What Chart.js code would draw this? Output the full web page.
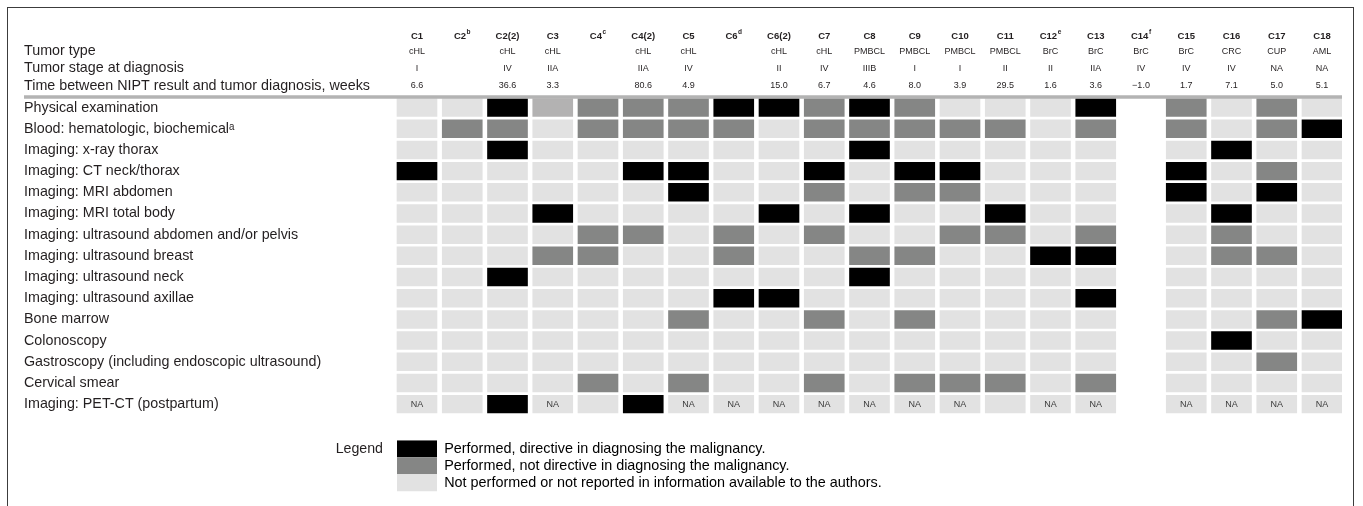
<!DOCTYPE html>
<html>
<head>
<meta charset="utf-8">
<script src="https://cdn.jsdelivr.net/npm/chart.js@4.4.1/dist/chart.umd.min.js"></script>
<style>
  html, body { margin: 0; padding: 0; background: #ffffff; }
  #wrap { position: relative; width: 1363px; height: 506px; overflow: hidden; }
  #chart { position: absolute; left: 0; top: 0; }
  #frame { position: absolute; left: 7px; top: 7px; width: 1345px; height: 520px;
           border: 1.5px solid #3c3c3c; border-bottom: none; pointer-events: none; }
</style>
</head>
<body>
<div id="wrap">
  <canvas id="chart" width="1363" height="506"></canvas>
  <div id="frame"></div>
</div>
<script>
// ---------------- data ----------------
const caseIds = ['C1','C2','C2(2)','C3','C4','C4(2)','C5','C6','C6(2)','C7','C8','C9','C10','C11','C12','C13','C14','C15','C16','C17','C18'];
const caseNotes = ['','b','','','c','','','d','','','','','','','e','','f','','','',''];
const tumorTypes = ['cHL','','cHL','cHL','','cHL','cHL','','cHL','cHL','PMBCL','PMBCL','PMBCL','PMBCL','BrC','BrC','BrC','BrC','CRC','CUP','AML'];
const tumorStages = ['I','','IV','IIA','','IIA','IV','','II','IV','IIIB','I','I','II','II','IIA','IV','IV','IV','NA','NA'];
const weeksToDiagnosis = ['6.6','','36.6','3.3','','80.6','4.9','','15.0','6.7','4.6','8.0','3.9','29.5','1.6','3.6','\u22121.0','1.7','7.1','5.0','5.1'];

const headerLabels = ['Tumor type', 'Tumor stage at diagnosis', 'Time between NIPT result and tumor diagnosis, weeks'];
const procedures = [
  'Physical examination',
  'Blood: hematologic, biochemical\u1D43',
  'Imaging: x-ray thorax',
  'Imaging: CT neck/thorax',
  'Imaging: MRI abdomen',
  'Imaging: MRI total body',
  'Imaging: ultrasound abdomen and/or pelvis',
  'Imaging: ultrasound breast',
  'Imaging: ultrasound neck',
  'Imaging: ultrasound axillae',
  'Bone marrow',
  'Colonoscopy',
  'Gastroscopy (including endoscopic ultrasound)',
  'Cervical smear',
  'Imaging: PET-CT (postpartum)'
];

// D = performed, directive; P = performed, not directive; N = not performed / not reported;
// X = not applicable (NA); Q = lighter shaded cell; '' = no cell
const physicalExam   = ['N','N','D','Q','P','P','P','D','D','P','D','P','N','N','N','D','','P','N','P','N'];
const bloodTests     = ['N','P','P','N','P','P','P','P','N','P','P','P','P','P','N','P','','P','N','P','D'];
const xrayThorax     = ['N','N','D','N','N','N','N','N','N','N','D','N','N','N','N','N','','N','D','N','N'];
const ctNeckThorax   = ['D','N','N','N','N','D','D','N','N','D','N','D','D','N','N','N','','D','N','P','N'];
const mriAbdomen     = ['N','N','N','N','N','N','D','N','N','P','N','P','P','N','N','N','','D','N','D','N'];
const mriTotalBody   = ['N','N','N','D','N','N','N','N','D','N','D','N','N','D','N','N','','N','D','N','N'];
const usAbdomen      = ['N','N','N','N','P','P','N','P','N','P','N','N','P','P','N','P','','N','P','N','N'];
const usBreast       = ['N','N','N','P','P','N','N','P','N','N','P','P','N','N','D','D','','N','P','P','N'];
const usNeck         = ['N','N','D','N','N','N','N','N','N','N','D','N','N','N','N','N','','N','N','N','N'];
const usAxillae      = ['N','N','N','N','N','N','N','D','D','N','N','N','N','N','N','D','','N','N','N','N'];
const boneMarrow     = ['N','N','N','N','N','N','P','N','N','P','N','P','N','N','N','N','','N','N','P','D'];
const colonoscopy    = ['N','N','N','N','N','N','N','N','N','N','N','N','N','N','N','N','','N','D','N','N'];
const gastroscopy    = ['N','N','N','N','N','N','N','N','N','N','N','N','N','N','N','N','','N','N','P','N'];
const cervicalSmear  = ['N','N','N','N','P','N','P','N','N','P','N','P','P','P','N','P','','N','N','N','N'];
const petCt          = ['X','N','D','X','N','D','X','X','X','X','X','X','X','N','X','X','','X','X','X','X'];

const statusRows = [physicalExam, bloodTests, xrayThorax, ctNeckThorax, mriAbdomen, mriTotalBody,
  usAbdomen, usBreast, usNeck, usAxillae, boneMarrow, colonoscopy, gastroscopy, cervicalSmear, petCt];

const legendTexts = [
  'Performed, directive in diagnosing the malignancy.',
  'Performed, not directive in diagnosing the malignancy.',
  'Not performed or not reported in information available to the authors.'
];

// ---------------- styling / layout ----------------
const COLORS = { D: '#000000', P: '#858685', N: '#e2e2e2', X: '#e2e2e2', Q: '#b3b2b2' };
const BAND_COLOR = '#b3b3b3';
const TEXT_COLOR = '#231f20';
const FONT = "'Liberation Sans', Arial, sans-serif";

const AREA_LEFT = 24, AREA_RIGHT = 1342, AREA_TOP = 28, AREA_BOTTOM = 500;
const COL0_PX = 417, COL_PITCH = 45.25;
const ROW0_PX = 108, ROW_PITCH = 21.3;
const xMin = (AREA_LEFT - COL0_PX) / COL_PITCH;
const xMax = (AREA_RIGHT - COL0_PX) / COL_PITCH;
const yMin = (AREA_TOP - ROW0_PX) / ROW_PITCH;
const yMax = (AREA_BOTTOM - ROW0_PX) / ROW_PITCH;
const HALF_ROW = 0.42;
const pxToRow = (px) => (px - ROW0_PX) / ROW_PITCH;
const ID_ROW = pxToRow(36);
const headerRows = [pxToRow(52), pxToRow(68.5), pxToRow(86)];
const headerLabelRows = [pxToRow(51.5), pxToRow(68), pxToRow(86.5)];
const BAND_ROW = pxToRow(97.5);

// ---------------- datasets ----------------
const cellDatasets = statusRows.map((row, r) => {
  const pts = [], cols = [], codes = [];
  row.forEach((code, c) => {
    if (!code) return;
    pts.push({ x: c, y: [r - HALF_ROW, r + HALF_ROW] });
    cols.push(COLORS[code]);
    codes.push(code);
  });
  return {
    type: 'bar',
    label: procedures[r],
    data: pts,
    codes: codes,
    backgroundColor: cols,
    borderWidth: 0,
    barThickness: 40,
    grouped: false,
    order: 1
  };
});

const bandDataset = {
  type: 'line',
  label: 'band',
  data: [{ x: xMin, y: BAND_ROW }, { x: xMax, y: BAND_ROW }],
  borderColor: BAND_COLOR,
  borderWidth: 3.5,
  pointRadius: 0,
  fill: false,
  order: 0
};

// y tick values: header labels + procedure rows
const yTickValues = headerLabelRows.concat(procedures.map((_, i) => i));
const yTickLabels = headerLabels.concat(procedures);

const headerPlugin = {
  id: 'headerText',
  afterDatasetsDraw(chart) {
    const { ctx } = chart;
    const xs = chart.scales.x, ys = chart.scales.y;
    ctx.save();
    ctx.fillStyle = TEXT_COLOR;
    ctx.textBaseline = 'middle';
    // case identifiers (bold, with footnote superscripts)
    caseIds.forEach((id, c) => {
      const cx = xs.getPixelForValue(c);
      const cy = ys.getPixelForValue(ID_ROW);
      ctx.font = 'bold 9.5px ' + FONT;
      const w1 = ctx.measureText(id).width;
      ctx.font = 'bold 6.5px ' + FONT;
      const note = caseNotes[c];
      const w2 = note ? ctx.measureText(note).width + 0.5 : 0;
      const start = cx - (w1 + w2) / 2;
      ctx.textAlign = 'left';
      ctx.font = 'bold 9.5px ' + FONT;
      ctx.fillText(id, start, cy);
      if (note) {
        ctx.font = 'bold 6.5px ' + FONT;
        ctx.fillText(note, start + w1 + 0.5, cy - 3.5);
      }
    });
    // tumor type / stage / weeks
    ctx.textAlign = 'center';
    ctx.font = '9px ' + FONT;
    [tumorTypes, tumorStages, weeksToDiagnosis].forEach((arr, k) => {
      const cy = ys.getPixelForValue(headerRows[k]);
      arr.forEach((t, c) => { if (t) ctx.fillText(t, xs.getPixelForValue(c), cy); });
    });
    // NA labels inside cells
    ctx.font = '9px ' + FONT;
    ctx.fillStyle = '#3a3a3a';
    chart.data.datasets.forEach((ds, di) => {
      if (!ds.codes) return;
      const meta = chart.getDatasetMeta(di);
      ds.codes.forEach((code, j) => {
        if (code !== 'X') return;
        const el = meta.data[j];
        ctx.fillText('NA', el.x, (el.y + el.base) / 2 + 0.5);
      });
    });
    // "Legend" caption
    const lg = chart.legend;
    if (lg && lg.legendItems && lg.legendItems.length) {
      ctx.fillStyle = TEXT_COLOR;
      ctx.textAlign = 'right';
      ctx.font = '14.2px ' + FONT;
      ctx.fillText('Legend', lg.left - 14, lg.top + 9);
    }
    ctx.restore();
  }
};

const legendPlacer = {
  id: 'legendPlacer',
  afterLayout(chart) {
    const lg = chart.legend;
    if (!lg) return;
    const xs = chart.scales.x, ys = chart.scales.y;
    const left = xs.getPixelForValue(0) - 20;
    const top = ys.getPixelForValue(pxToRow(442.5));
    lg.left = left; lg.top = top;
    lg.right = left + 700; lg.bottom = top + 80;
    lg.width = 700; lg.height = 80;
  }
};

new Chart(document.getElementById('chart'), {
  type: 'bar',
  data: { datasets: [bandDataset].concat(cellDatasets) },
  options: {
    responsive: false,
    animation: false,
    devicePixelRatio: 1,
    layout: { padding: { left: AREA_LEFT, right: 1363 - AREA_RIGHT, top: AREA_TOP, bottom: 506 - AREA_BOTTOM } },
    scales: {
      x: {
        type: 'linear', min: xMin, max: xMax, display: false, offset: false,
        grid: { display: false, offset: false, drawTicks: false }
      },
      y: {
        type: 'linear', reverse: true, min: yMin, max: yMax, offset: false,
        grid: { display: false, drawTicks: false, tickLength: 0 }, border: { display: false },
        afterBuildTicks: (axis) => { axis.ticks = yTickValues.map(v => ({ value: v })); },
        ticks: {
          mirror: true, padding: 0, autoSkip: false,
          color: TEXT_COLOR,
          font: { family: FONT, size: 14.3 },
          callback: (value, index) => yTickLabels[index]
        }
      }
    },
    plugins: {
      tooltip: { enabled: false },
      legend: {
        position: 'chartArea',
        align: 'start',
        labels: {
          boxWidth: 40, boxHeight: 17, padding: 0,
          color: TEXT_COLOR,
          font: { family: FONT, size: 14.4 },
          generateLabels: () => legendTexts.map((t, i) => ({
            text: t,
            fillStyle: [COLORS.D, COLORS.P, COLORS.N][i],
            strokeStyle: 'rgba(0,0,0,0)',
            lineWidth: 0,
            hidden: false
          }))
        }
      }
    }
  },
  plugins: [headerPlugin, legendPlacer]
});
</script>
</body>
</html>
